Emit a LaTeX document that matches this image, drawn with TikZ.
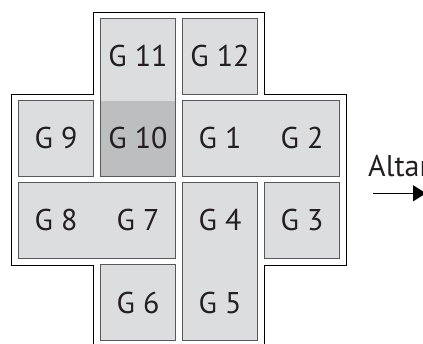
\documentclass[tikz,border=0pt]{standalone}
\usepackage{fontspec}
\setmainfont{PT Sans}
\usepackage{tikz}
\usetikzlibrary{arrows.meta,positioning,fit,backgrounds}
\definecolor{cellgrey}{HTML}{DCDDDE}
\definecolor{altargrey}{HTML}{BDBEC0}
\definecolor{rimgrey}{HTML}{58595B}
\definecolor{inkgrey}{HTML}{231F20}

\begin{document}
\begin{tikzpicture}[x=1pt, y=1pt, node distance = 82pt, on grid,
        gtext/.style = {minimum size=75pt, inner sep=0pt, text=inkgrey, font=\fontsize{30}{36}\selectfont},
        cell/.style = {draw=rimgrey, line width=0.8pt, fill=cellgrey, inner sep=0pt}]
        \useasboundingbox (0,0) rectangle (423,343);
        \clip (0,0) rectangle (423,343);
        % grid of group labels
        \node (g9) at (56,204.5) [gtext] {G 9};
        \node (g10) [gtext, right=of g9] {G 10};
        \node (g11) [gtext, above=of g10] {G 11};
        \node (g12) [gtext, right=of g11] {G 12};
        \node (g1) [gtext, right=of g10] {G 1};
        \node (g2) [gtext, right=of g1] {G 2};
        \node (g8) [gtext, below=of g9] {G 8};
        \node (g7) [gtext, right=of g8] {G 7};
        \node (g4) [gtext, right=of g7] {G 4};
        \node (g3) [gtext, right=of g4] {G 3};
        \node (g6) [gtext, below=of g7] {G 6};
        \node (g5) [gtext, right=of g6] {G 5};
        % cells behind the labels
        \begin{scope}[on background layer]
            \node (c11) [cell, fit=(g11)(g10)] {};
            \node (c10) [fill=altargrey, inner sep=-0.4pt, fit=(g10)] {};
            \node (c12) [cell, fit=(g12)] {};
            \node (c9) [cell, fit=(g9)] {};
            \node (c1) [cell, fit=(g1)(g2)] {};
            \node (c8) [cell, fit=(g8)(g7)] {};
            \node (c4) [cell, fit=(g4)(g5)] {};
            \node (c3) [cell, fit=(g3)] {};
            \node (c6) [cell, fit=(g6)] {};
        \end{scope}
        % outer wall
        \draw [line width=0.8pt] (93.5,-5) -- (93.5,78) -- (11.5,78) -- (11.5,249) -- (93.5,249) -- (93.5,331)
            -- (264.5,331) -- (264.5,249) -- (346.5,249) -- (346.5,78) -- (264.5,78) -- (264.5,-5);
        \node (altar) at (368,166) [anchor=base west, inner sep=0pt, text=inkgrey, font=\fontsize{30}{36}\selectfont] {Altar};
        \coordinate (tail) at (373,149.7);
        \coordinate (head) at (426,149.7);
        \path [draw, line width=1.2pt, -{Triangle[length=13pt,width=16pt]}] (tail) -- (head);
    \end{tikzpicture}
\end{document}
